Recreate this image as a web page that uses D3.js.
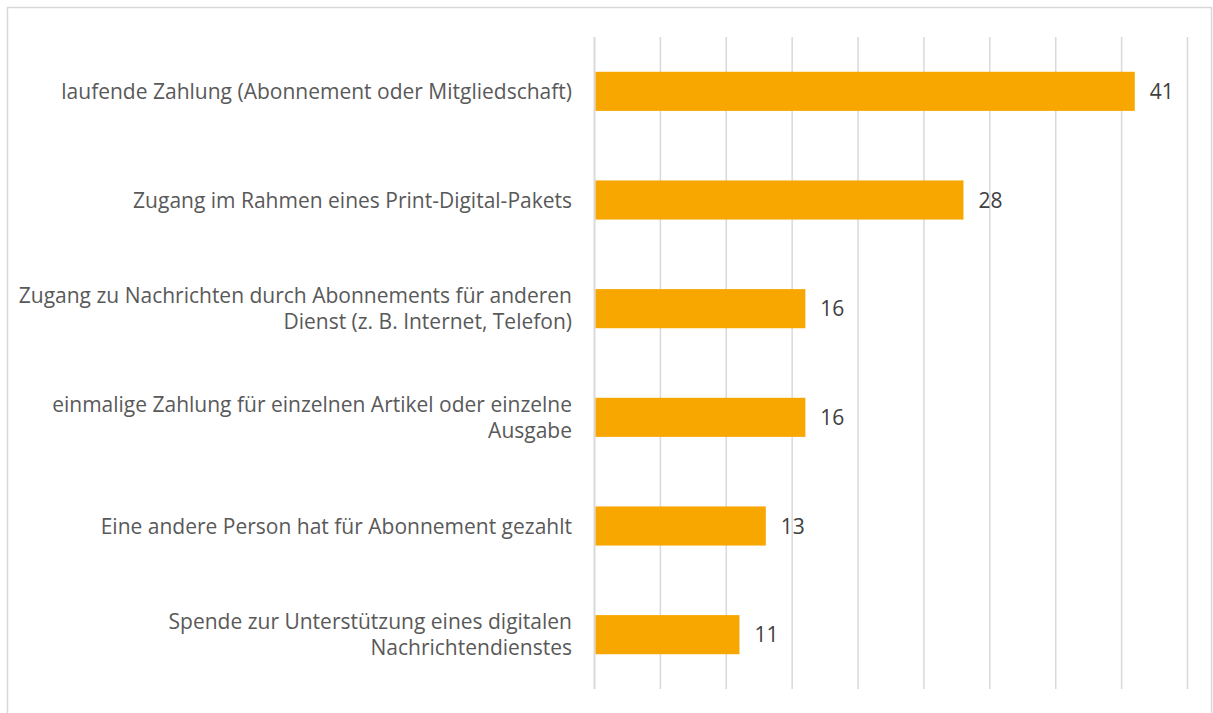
<!DOCTYPE html>
<html>
<head>
<meta charset="utf-8">
<script src="https://cdn.jsdelivr.net/npm/d3@7"></script>
<style>
  html, body { margin: 0; padding: 0; background: #fff; }
  svg { display: block; }
</style>
</head>
<body>
<svg id="chart" width="1213" height="713"></svg>
<script>
// Payment types for digital news access (values in percent)
const categories = [
  ["laufende Zahlung (Abonnement oder Mitgliedschaft)"],
  ["Zugang im Rahmen eines Print-Digital-Pakets"],
  ["Zugang zu Nachrichten durch Abonnements für anderen", "Dienst (z. B. Internet, Telefon)"],
  ["einmalige Zahlung für einzelnen Artikel oder einzelne", "Ausgabe"],
  ["Eine andere Person hat für Abonnement gezahlt"],
  ["Spende zur Unterstützung eines digitalen", "Nachrichtendienstes"]
];
const values = [41, 28, 16, 16, 13, 11];
const gridTicks = [0, 5, 10, 15, 20, 25, 30, 35, 40, 45];

const svg = d3.select("#chart");

// Chart frame
svg.append("rect")
  .attr("x", 7.5).attr("y", 7.5)
  .attr("width", 1204).attr("height", 720)
  .attr("fill", "#fff")
  .attr("stroke", "#d9d9d9")
  .attr("stroke-width", 1.5);

const plot = { left: 594.5, right: 1187.5, top: 37, bottom: 689 };

const x = d3.scaleLinear().domain([0, 45]).range([plot.left, plot.right]);
const y = d3.scaleBand()
  .domain(d3.range(categories.length))
  .range([plot.top, plot.bottom])
  .paddingInner(0.64)
  .paddingOuter(0.32);

// Vertical gridlines
svg.append("g")
  .selectAll("line")
  .data(gridTicks)
  .join("line")
  .attr("x1", d => x(d)).attr("x2", d => x(d))
  .attr("y1", plot.top).attr("y2", plot.bottom)
  .attr("stroke", "#d9d9d9")
  .attr("stroke-width", d => d === 0 ? 2 : 1.5);

// Bars
svg.append("g")
  .selectAll("rect")
  .data(values)
  .join("rect")
  .attr("x", x(0) + 1)
  .attr("y", (d, i) => y(i))
  .attr("width", d => x(d) - x(0) - 1)
  .attr("height", y.bandwidth())
  .attr("fill", "#f7a700");

const font = "'Open Sans', 'Noto Sans', sans-serif";
const fontSize = 21;

// Value labels
svg.append("g")
  .selectAll("text")
  .data(values)
  .join("text")
  .attr("x", d => x(d) + 15)
  .attr("y", (d, i) => y(i) + y.bandwidth() / 2)
  .attr("dy", "0.36em")
  .attr("font-family", font)
  .attr("font-size", fontSize)
  .attr("fill", "#404040")
  .text(d => d);

// Category labels (right-aligned, possibly two lines)
const lineH = 26.5;
const labels = svg.append("g")
  .selectAll("text")
  .data(categories)
  .join("text")
  .attr("text-anchor", "end")
  .attr("font-family", font)
  .attr("font-size", fontSize)
  .attr("fill", "#595959")
  .attr("transform", (d, i) => `translate(572, ${y(i) + y.bandwidth() / 2})`);

labels.selectAll("tspan")
  .data(d => d.map((t, k) => ({ t, k, n: d.length })))
  .join("tspan")
  .attr("x", 0)
  .attr("y", d => (d.k - (d.n - 1) / 2) * lineH)
  .attr("dy", "0.36em")
  .text(d => d.t);
</script>
</body>
</html>
